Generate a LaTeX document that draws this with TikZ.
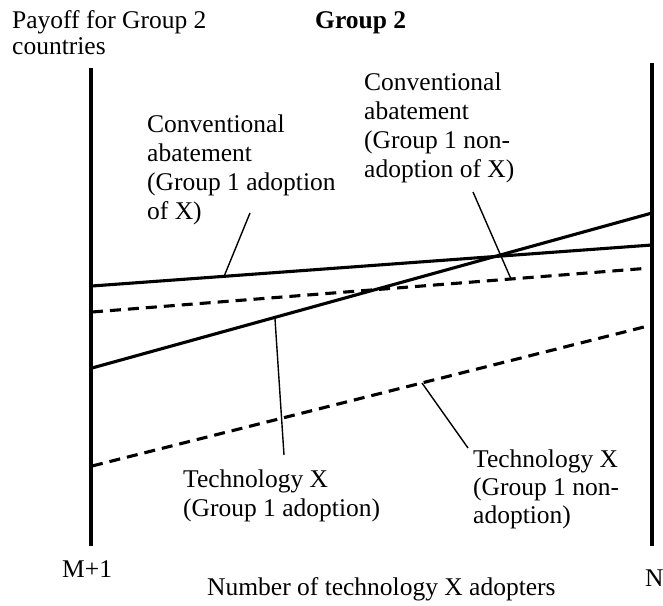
\documentclass[tikz,border=0pt]{standalone}
\usepackage{fontspec}
\setmainfont{Liberation Serif}
\begin{document}
\begin{tikzpicture}[x=1pt,y=-1pt,
  lbl/.style={font=\fontsize{25.5}{29}\selectfont, inner sep=0pt, align=left, anchor=north west},
  axisline/.style={line width=3.2pt},
  curve/.style={line width=3.1pt},
  dcurve/.style={line width=3.1pt, dash pattern=on 11pt off 7pt},
  leader/.style={line width=1.4pt}]
\useasboundingbox (0,0) rectangle (663,605);
% axes
\coordinate (LT) at (91,68);
\coordinate (LB) at (91,546);
\coordinate (RT) at (652,63);
\coordinate (RB) at (652,546);
\draw[axisline] (LT) -- (LB);
\draw[axisline] (RT) -- (RB);
% curves
\coordinate (ca1) at (92,286);   \coordinate (ca2) at (652,245);
\coordinate (cn1) at (92,312);   \coordinate (cn2) at (644,268.5);
\coordinate (ta1) at (92,368);   \coordinate (ta2) at (652,213);
\coordinate (tn1) at (92,466);   \coordinate (tn2) at (646,326.5);
\draw[curve] (ca1) -- (ca2);
\draw[dcurve] (cn1) -- (cn2);
\draw[curve] (ta1) -- (ta2);
\draw[dcurve] (tn1) -- (tn2);
% texts
\node[lbl, anchor=base west] (yl) at (12,28) {Payoff for Group 2};
\node[lbl, anchor=base west] (yl2) at (12,54) {countries};
\node[lbl, anchor=base west, font=\fontsize{25.5}{29}\selectfont\bfseries] (title) at (315,28) {Group 2};
\node[lbl] (caL) at (147,114.5) {Conventional\\abatement\\(Group 1 adoption\\of X)};
\node[lbl] (cnL) at (364,72.5) {Conventional\\abatement\\(Group 1 non-\\adoption of X)};
\node[lbl] (taL) at (183,469.5) {Technology X\\(Group 1 adoption)};
\node[lbl, font=\fontsize{25.5}{28}\selectfont] (tnL) at (473,449.5) {Technology X\\(Group 1 non-\\adoption)};
\node[lbl, anchor=base west] (m1) at (62,577) {M+1};
\node[lbl, anchor=base west] (nn) at (645,586) {N};
\node[lbl, anchor=base west] (xl) at (207,595) {Number of technology X adopters};
% leaders
\coordinate (l1a) at (250,213); \coordinate (l1b) at (224,276.5);
\coordinate (l2a) at (473,192); \coordinate (l2b) at (511,279);
\coordinate (l3a) at (275,319); \coordinate (l3b) at (284,455);
\coordinate (l4a) at (422,383); \coordinate (l4b) at (468,448);
\draw[leader] (l1a) -- (l1b);
\draw[leader] (l2a) -- (l2b);
\draw[leader] (l3a) -- (l3b);
\draw[leader] (l4a) -- (l4b);
\end{tikzpicture}
\end{document}
